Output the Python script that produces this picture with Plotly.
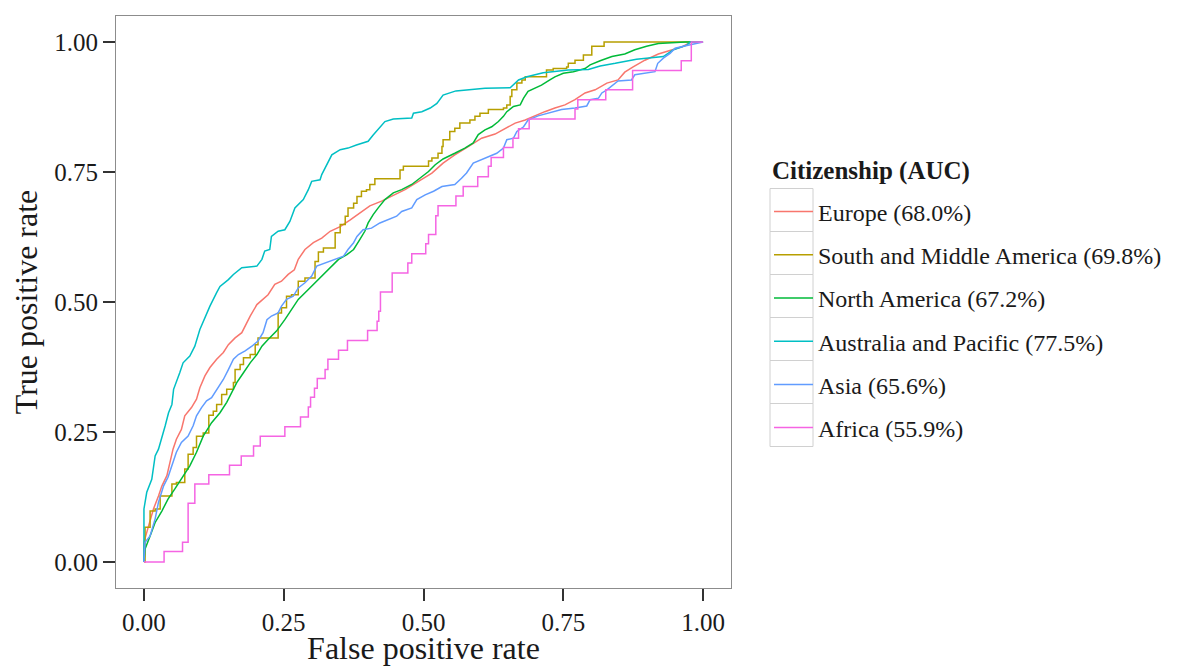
import plotly.graph_objects as go

# ---------------- data ----------------
series_names = [
    "Europe (68.0%)",
    "South and Middle America (69.8%)",
    "North America (67.2%)",
    "Australia and Pacific (77.5%)",
    "Asia (65.6%)",
    "Africa (55.9%)",
]
legend_title = "Citizenship (AUC)"
x_title = "False positive rate"
y_title = "True positive rate"

europe_fpr = [0, 0.0, 0.005, 0.011, 0.017, 0.026, 0.032, 0.041, 0.047, 0.052, 0.058, 0.067, 0.073, 0.085, 0.094,
              0.100, 0.109, 0.118, 0.130, 0.142, 0.151, 0.163, 0.175, 0.190, 0.202, 0.213, 0.222, 0.234, 0.246,
              0.258, 0.269, 0.276, 0.288, 0.303, 0.318, 0.333, 0.351, 0.369, 0.386, 0.404, 0.425, 0.443, 0.467,
              0.491, 0.515, 0.535, 0.556, 0.580, 0.604, 0.628, 0.646, 0.664, 0.682, 0.699, 0.717, 0.735, 0.753,
              0.771, 0.789, 0.807, 0.828, 0.848, 0.860, 0.875, 0.896, 0.920, 0.944, 0.963, 0.977, 1.0]
europe_tpr = [0, 0.038, 0.057, 0.079, 0.102, 0.127, 0.146, 0.166, 0.191, 0.217, 0.236, 0.255, 0.281, 0.297, 0.313,
              0.335, 0.358, 0.374, 0.390, 0.403, 0.418, 0.431, 0.441, 0.473, 0.495, 0.505, 0.514, 0.534, 0.540,
              0.553, 0.562, 0.582, 0.601, 0.614, 0.623, 0.636, 0.645, 0.658, 0.671, 0.685, 0.694, 0.703, 0.716,
              0.732, 0.748, 0.767, 0.783, 0.799, 0.815, 0.823, 0.834, 0.844, 0.850, 0.858, 0.866, 0.873, 0.879,
              0.889, 0.902, 0.908, 0.921, 0.927, 0.942, 0.952, 0.965, 0.977, 0.985, 0.991, 0.999, 1.0]

sam_fpr = [0, 0.002, 0.011, 0.020, 0.029, 0.050, 0.058, 0.073, 0.079, 0.088, 0.094, 0.106, 0.116, 0.124, 0.130,
           0.139, 0.148, 0.160, 0.163, 0.172, 0.178, 0.190, 0.199, 0.204, 0.240, 0.246, 0.255, 0.264, 0.276,
           0.288, 0.306, 0.312, 0.321, 0.342, 0.351, 0.360, 0.365, 0.375, 0.381, 0.389, 0.398, 0.404, 0.413,
           0.458, 0.464, 0.509, 0.515, 0.526, 0.533, 0.535, 0.547, 0.556, 0.565, 0.583, 0.592, 0.601, 0.616,
           0.643, 0.649, 0.655, 0.658, 0.667, 0.676, 0.682, 0.720, 0.732, 0.756, 0.759, 0.771, 0.786, 0.801,
           0.823, 1.0]
sam_tpr = [0, 0.067, 0.098, 0.102, 0.127, 0.150, 0.153, 0.179, 0.207, 0.220, 0.242, 0.248, 0.282, 0.290, 0.303,
           0.322, 0.332, 0.345, 0.370, 0.380, 0.393, 0.399, 0.418, 0.431, 0.479, 0.489, 0.511, 0.514, 0.540,
           0.546, 0.578, 0.596, 0.604, 0.633, 0.649, 0.665, 0.681, 0.690, 0.703, 0.713, 0.716, 0.726, 0.737,
           0.754, 0.761, 0.771, 0.777, 0.786, 0.799, 0.812, 0.828, 0.834, 0.844, 0.850, 0.857, 0.863, 0.870,
           0.873, 0.879, 0.895, 0.908, 0.921, 0.927, 0.933, 0.946, 0.949, 0.952, 0.959, 0.965, 0.975, 0.992,
           1.0, 1.0]

na_fpr = [0, 0.002, 0.011, 0.020, 0.032, 0.043, 0.055, 0.067, 0.082, 0.094, 0.106, 0.121, 0.136, 0.148, 0.157,
          0.166, 0.178, 0.190, 0.202, 0.211, 0.222, 0.237, 0.252, 0.264, 0.276, 0.294, 0.312, 0.330, 0.348,
          0.363, 0.375, 0.386, 0.395, 0.401, 0.410, 0.419, 0.431, 0.446, 0.461, 0.479, 0.494, 0.509, 0.521,
          0.535, 0.556, 0.574, 0.589, 0.598, 0.610, 0.622, 0.634, 0.643, 0.649, 0.661, 0.673, 0.679, 0.687,
          0.699, 0.711, 0.726, 0.735, 0.750, 0.768, 0.789, 0.798, 0.816, 0.837, 0.860, 0.878, 0.899, 0.920,
          0.968, 1.0]
na_tpr = [0, 0.025, 0.050, 0.076, 0.098, 0.121, 0.140, 0.159, 0.185, 0.211, 0.242, 0.268, 0.287, 0.307, 0.326,
          0.345, 0.364, 0.383, 0.399, 0.415, 0.428, 0.444, 0.466, 0.486, 0.505, 0.524, 0.543, 0.562, 0.582,
          0.591, 0.601, 0.620, 0.636, 0.652, 0.668, 0.681, 0.697, 0.710, 0.716, 0.726, 0.738, 0.751, 0.764,
          0.775, 0.786, 0.796, 0.806, 0.822, 0.831, 0.837, 0.847, 0.857, 0.866, 0.876, 0.879, 0.892, 0.905,
          0.911, 0.917, 0.927, 0.933, 0.940, 0.943, 0.949, 0.956, 0.964, 0.972, 0.977, 0.985, 0.992, 0.997,
          1.0, 1.0]

aus_fpr = [0, 0.0, 0.005, 0.014, 0.020, 0.026, 0.038, 0.044, 0.050, 0.053, 0.064, 0.070, 0.082, 0.091, 0.100,
           0.112, 0.118, 0.130, 0.136, 0.151, 0.160, 0.175, 0.202, 0.211, 0.216, 0.225, 0.228, 0.240, 0.252,
           0.261, 0.270, 0.285, 0.294, 0.300, 0.315, 0.318, 0.327, 0.336, 0.351, 0.365, 0.380, 0.401, 0.410,
           0.425, 0.431, 0.446, 0.479, 0.482, 0.497, 0.512, 0.524, 0.535, 0.558, 0.610, 0.655, 0.670, 0.685,
           0.714, 0.759, 0.795, 0.816, 0.843, 0.881, 0.929, 0.947, 0.971, 0.977, 1.0]
aus_tpr = [0, 0.102, 0.134, 0.159, 0.204, 0.217, 0.262, 0.287, 0.303, 0.332, 0.364, 0.383, 0.396, 0.415, 0.447,
           0.479, 0.492, 0.518, 0.530, 0.543, 0.553, 0.566, 0.569, 0.582, 0.598, 0.601, 0.626, 0.636, 0.639,
           0.655, 0.681, 0.697, 0.716, 0.732, 0.735, 0.745, 0.764, 0.783, 0.793, 0.796, 0.802, 0.809, 0.821,
           0.841, 0.847, 0.852, 0.854, 0.863, 0.866, 0.873, 0.882, 0.898, 0.906, 0.911, 0.912, 0.927, 0.933,
           0.941, 0.946, 0.947, 0.954, 0.959, 0.967, 0.972, 0.985, 0.994, 1.0, 1.0]

asia_fpr = [0, 0.002, 0.011, 0.020, 0.026, 0.035, 0.043, 0.052, 0.058, 0.067, 0.079, 0.088, 0.094, 0.103, 0.112,
            0.121, 0.133, 0.142, 0.151, 0.160, 0.169, 0.181, 0.193, 0.204, 0.213, 0.220, 0.228, 0.240, 0.246,
            0.255, 0.267, 0.276, 0.288, 0.300, 0.309, 0.324, 0.342, 0.357, 0.365, 0.375, 0.381, 0.392, 0.407,
            0.422, 0.452, 0.461, 0.479, 0.488, 0.503, 0.518, 0.533, 0.556, 0.568, 0.577, 0.589, 0.604, 0.619,
            0.631, 0.643, 0.649, 0.661, 0.667, 0.679, 0.687, 0.705, 0.723, 0.747, 0.771, 0.792, 0.798, 0.813,
            0.819, 0.828, 0.848, 0.872, 0.878, 0.914, 0.919, 0.929, 0.941, 0.950, 0.965, 0.986, 0.995, 1.0]
asia_tpr = [0, 0.038, 0.050, 0.083, 0.115, 0.146, 0.163, 0.191, 0.211, 0.230, 0.242, 0.262, 0.281, 0.297, 0.310,
            0.316, 0.335, 0.351, 0.370, 0.390, 0.399, 0.406, 0.415, 0.425, 0.441, 0.466, 0.473, 0.479, 0.492,
            0.505, 0.511, 0.527, 0.537, 0.550, 0.569, 0.575, 0.582, 0.588, 0.601, 0.614, 0.626, 0.639, 0.642,
            0.652, 0.665, 0.674, 0.681, 0.697, 0.706, 0.713, 0.722, 0.726, 0.738, 0.748, 0.767, 0.774, 0.780,
            0.786, 0.796, 0.812, 0.815, 0.828, 0.837, 0.850, 0.858, 0.863, 0.870, 0.873, 0.877, 0.889, 0.892,
            0.902, 0.908, 0.925, 0.927, 0.937, 0.943, 0.959, 0.969, 0.978, 0.988, 0.992, 0.997, 1.0, 1.0]

africa_fpr = [0, 0.036, 0.069, 0.079, 0.091, 0.116, 0.153, 0.174, 0.196, 0.208, 0.252, 0.280, 0.294, 0.298,
              0.305, 0.310, 0.324, 0.329, 0.348, 0.364, 0.400, 0.417, 0.420, 0.423, 0.444, 0.472, 0.479, 0.504,
              0.509, 0.522, 0.526, 0.558, 0.571, 0.597, 0.616, 0.621, 0.643, 0.660, 0.670, 0.689, 0.771, 0.776,
              0.826, 0.874, 0.961, 0.979, 1.0]
africa_tpr = [0, 0.020, 0.038, 0.113, 0.150, 0.168, 0.186, 0.204, 0.223, 0.242, 0.260, 0.279, 0.298, 0.317,
              0.334, 0.353, 0.370, 0.390, 0.407, 0.426, 0.445, 0.463, 0.482, 0.519, 0.556, 0.575, 0.593, 0.612,
              0.630, 0.666, 0.685, 0.704, 0.722, 0.741, 0.761, 0.778, 0.797, 0.815, 0.833, 0.852, 0.871, 0.889,
              0.908, 0.945, 0.964, 1.0, 1.0]

series_fpr = [europe_fpr, sam_fpr, na_fpr, aus_fpr, asia_fpr, africa_fpr]
series_tpr = [europe_tpr, sam_tpr, na_tpr, aus_tpr, asia_tpr, africa_tpr]
series_colors = ["#F8766D", "#B79F00", "#00BA38", "#00BFC4", "#619CFF", "#F564E3"]
series_shapes = ["linear", "hv", "linear", "linear", "linear", "hv"]

tick_vals = [0, 0.25, 0.5, 0.75, 1.0]
tick_text = ["0.00", "0.25", "0.50", "0.75", "1.00"]

# ---------------- figure ----------------
FONT = "Liberation Serif, Times New Roman, serif"
OFF = 8                      # page body margin in the browser
W, H = 1189 - OFF, 666 - OFF
ML, MR, MT, MB = 116 - OFF, 458, 16 - OFF, 78
PW, PH = W - ML - MR, H - MT - MB

fig = go.Figure()
for i, name in enumerate(series_names):
    fig.add_trace(go.Scatter(
        x=series_fpr[i], y=series_tpr[i], mode="lines", name=name,
        line=dict(color=series_colors[i], width=1.5, shape=series_shapes[i]),
        legendgroup=f"g{i}",
    ))

# convert screen pixel (page) positions to paper coordinates
def px_x(p):
    return (p - OFF - ML) / PW

def px_y(p):
    return (H - MB - (p - OFF)) / PH

# legend key boxes (ggplot style)
shapes = []
key_top, key_h = 188.5, 43.0
for i in range(len(series_names)):
    shapes.append(dict(type="rect", xref="paper", yref="paper",
                       x0=px_x(770), x1=px_x(813),
                       y0=px_y(key_top + key_h * (i + 1)), y1=px_y(key_top + key_h * i),
                       line=dict(color="#d0d0d0", width=1), fillcolor="rgba(0,0,0,0)", layer="below"))

axis_common = dict(
    range=[-0.05, 1.05], tickvals=tick_vals, ticktext=tick_text,
    showgrid=False, zeroline=False, ticks="outside", ticklen=12, tickwidth=1.5, tickcolor="#333333",
    showline=True, mirror=True, linecolor="#8c8c8c", linewidth=1,
    tickfont=dict(family=FONT, size=25, color="#1a1a1a"),
)

fig.update_layout(
    width=W, height=H,
    margin=dict(l=ML, r=MR, t=MT, b=MB, autoexpand=False),
    paper_bgcolor="white", plot_bgcolor="white",
    font=dict(family=FONT, color="#1a1a1a"),
    xaxis=dict(**axis_common, title=dict(text=x_title, font=dict(family=FONT, size=32), standoff=6)),
    yaxis=dict(**axis_common, title=dict(text=y_title, font=dict(family=FONT, size=32), standoff=8)),
    legend=dict(
        x=px_x(769), xanchor="left", y=px_y(189.5), yanchor="top",
        font=dict(family=FONT, size=24, color="#1a1a1a"),
        tracegroupgap=9, itemwidth=39, borderwidth=0, bgcolor="rgba(0,0,0,0)",
    ),
    annotations=[dict(
        text=f"<b>{legend_title}</b>", xref="paper", yref="paper",
        x=px_x(770), y=px_y(171), xanchor="left", yanchor="middle", showarrow=False,
        font=dict(family=FONT, size=25, color="#1a1a1a"),
    )],
    shapes=shapes,
    showlegend=True,
)

fig.write_html("out.html")
